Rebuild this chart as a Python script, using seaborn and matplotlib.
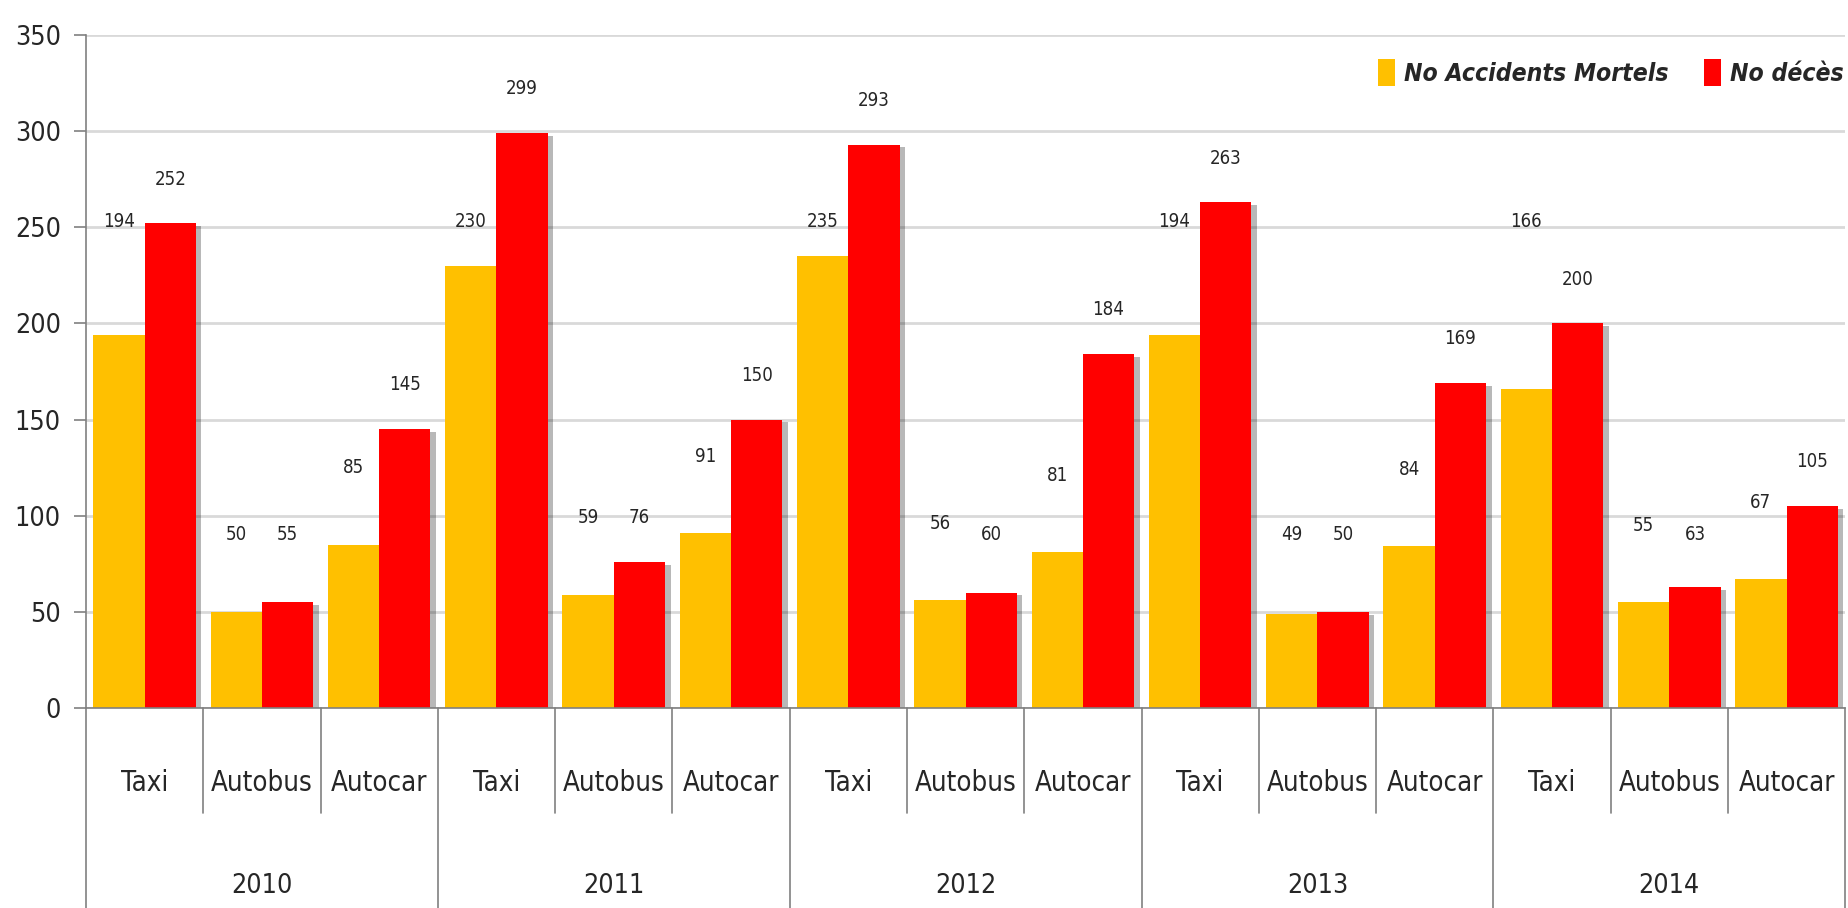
import matplotlib
matplotlib.use('Agg')
import matplotlib.pyplot as plt
import matplotlib.transforms as mtransforms
import matplotlib.patheffects as pe
from matplotlib.font_manager import fontManager
from matplotlib.patches import Patch
import seaborn as sns
import pandas as pd

# ---- data ----
years = ['2010', '2011', '2012', '2013', '2014']
vehicles = ['Taxi', 'Autobus', 'Autocar']
accidents = [194, 50, 85, 230, 59, 91, 235, 56, 81, 194, 49, 84, 166, 55, 67]
deces = [252, 55, 145, 299, 76, 150, 293, 60, 184, 263, 50, 169, 200, 63, 105]
series_names = ['No Accidents Mortels', 'No décès']
colors = ['#FFC000', '#FF0000']
yticks = [0, 50, 100, 150, 200, 250, 300, 350]

# ---- font choice: prefer a narrow / condensed face ----
family, stretch = 'Liberation Sans', 'normal'
names = {f.name for f in fontManager.ttflist}
if 'Liberation Sans Narrow' in names:
    family, stretch = 'Liberation Sans Narrow', 'normal'
else:
    for f in fontManager.ttflist:
        st = str(f.stretch)
        if ('Condensed' in f.name or 'Narrow' in f.name or st in ('condensed', 'semi-condensed')) \
                and f.style == 'normal' and 'Mono' not in f.name and 'Serif' not in f.name:
            family, stretch = f.name, (st if st not in ('normal', '500') else 'normal')
            break

sns.set_theme(style='white')
plt.rcParams['font.family'] = [family, 'DejaVu Sans']
plt.rcParams['font.stretch'] = stretch

fig = plt.figure(figsize=(18.48, 9.08), dpi=100)
renderer = fig.canvas.get_renderer()


def fit_size(text, target_px, **kw):
    t = fig.text(0, 0, text, fontsize=100, **kw)
    w = t.get_window_extent(renderer=renderer).width
    t.remove()
    return 100 * target_px / w


tick_fs = fit_size('350', 46)
cat_fs = fit_size('Autobus', 102)
year_fs = fit_size('2010', 61)
val_fs = fit_size('252', 32)
leg_fs = fit_size(series_names[0], 264, fontweight='bold', fontstyle='italic')
leg_px = leg_fs * 100 / 72

cats = [f'{y} {v}' for y in years for v in vehicles]
df = pd.DataFrame({
    'cat': cats * 2,
    'serie': [series_names[0]] * len(cats) + [series_names[1]] * len(cats),
    'val': accidents + deces,
})

ax = fig.add_axes([0.0465, 0.2203, 0.952, 0.7412])
sns.barplot(data=df, x='cat', y='val', hue='serie', order=cats,
            hue_order=series_names, palette=colors, width=0.875, gap=0,
            saturation=1, errorbar=None, legend=False, linewidth=0, ax=ax)

ax.set_xlim(-0.5, len(cats) - 0.5)
ax.set_ylim(0, 350)
ax.set_yticks(yticks)
ax.yaxis.grid(True, color='#D9D9D9', lw=2)
ax.set_axisbelow(True)
ax.tick_params(axis='y', left=True, length=9, width=1.2, color='#808080',
               labelsize=tick_fs, pad=9, labelcolor='#262626')
ax.set_xticks([])
ax.set_xlabel('')
ax.set_ylabel('')
for s in ['top', 'right']:
    ax.spines[s].set_visible(False)
for s in ['left', 'bottom']:
    ax.spines[s].set_color('#808080')
    ax.spines[s].set_linewidth(1.2)

# bar shadows and value labels
for k, cont in enumerate(ax.containers):
    vals = accidents if k == 0 else deces
    for j, (bar, v) in enumerate(zip(cont, vals)):
        bar.set_linewidth(0)
        bar.set_path_effects([pe.SimplePatchShadow(offset=(4, -2), shadow_rgbFace='black', alpha=0.28),
                              pe.Normal()])
        if k == 0:
            ly = 253 if vehicles[j % 3] == 'Taxi' else max(v + 40, 90)
        else:
            ly = max(v + 23, 90)
        ax.text(bar.get_x() + bar.get_width() / 2, ly, str(v), ha='center',
                va='center', fontsize=val_fs, color='#262626')

# multi-level category axis
trans = mtransforms.blended_transform_factory(ax.transData, ax.transAxes)
for i, c in enumerate(cats):
    ax.text(i, -0.112, vehicles[i % 3], transform=trans, ha='center', va='center',
            fontsize=cat_fs, color='#262626')
for gi, y in enumerate(years):
    ax.text(gi * 3 + 1, -0.265, y, transform=trans, ha='center', va='center',
            fontsize=year_fs, color='#262626')
for b in range(len(cats) + 1):
    x = b - 0.5
    y0 = -0.30 if b % 3 == 0 else -0.156
    ax.plot([x, x], [0, y0], transform=trans, clip_on=False, color='#808080', lw=1.2)

handles = [Patch(facecolor=c, edgecolor='none') for c in colors]
ax.legend(handles, series_names, ncol=2, loc='center right',
          bbox_to_anchor=(1.0045, 0.944), frameon=False,
          prop={'weight': 'bold', 'style': 'italic', 'size': leg_fs},
          handlelength=17 / leg_px, handleheight=32 / leg_px,
          handletextpad=9 / leg_px, columnspacing=35 / leg_px, borderaxespad=0)

fig.savefig('out.png', dpi=100)
